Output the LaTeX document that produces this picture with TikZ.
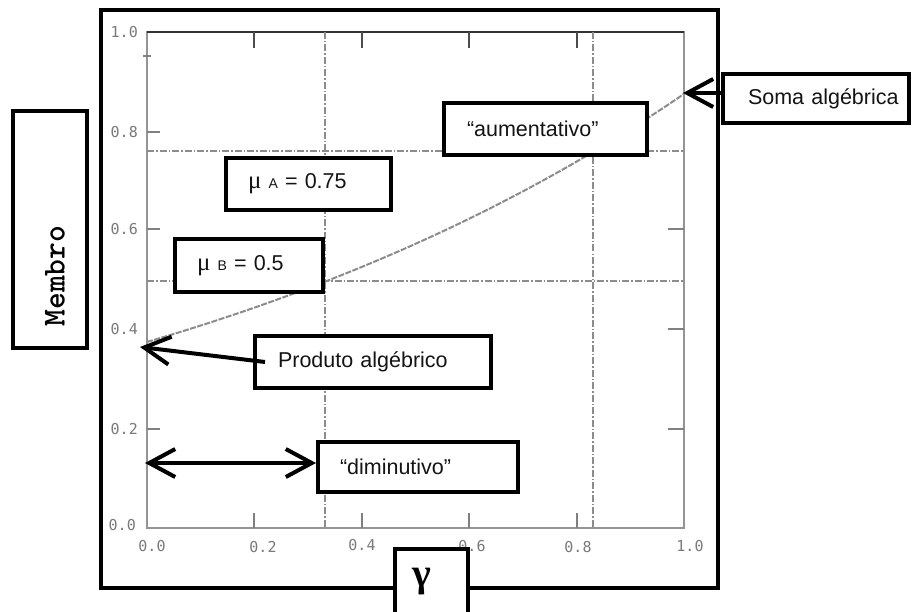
\documentclass[tikz,border=0pt]{standalone}
\usepackage{fontspec}
\setmainfont{Liberation Sans}
\newfontfamily\grfont{Liberation Serif}
\newfontfamily\tickfont{DejaVu Sans Mono}
\usetikzlibrary{arrows.meta}
\begin{document}
\begin{tikzpicture}[x=1pt,y=-1pt,
  tagbox/.style={draw=black, line width=4pt, fill=white, text=black!92, align=left,
    inner ysep=0pt, font=\fontsize{21.5pt}{25pt}\selectfont},
  pointer/.style={line width=4pt, -{Straight Barb[length=26pt,width=28pt]}},
  pointers/.style={line width=4pt,
    {Straight Barb[length=26pt,width=28pt]}-{Straight Barb[length=26pt,width=28pt]}},
  axisline/.style={draw=black!42, line width=2.2pt},
  darktick/.style={draw=black!70, line width=2.4pt},
  lighttick/.style={draw=black!50, line width=2pt},
  gridline/.style={draw=black!45, line width=1.4pt, dash pattern=on 7pt off 2pt on 1.5pt off 2pt},
  ticklabel/.style={text=black!52, font=\tickfont\fontsize{15pt}{17pt}\selectfont, inner sep=0pt},
  curve/.style={draw=black!45, line width=2pt, dash pattern=on 6pt off 1.5pt}]
\useasboundingbox (0,0) rectangle (912,612);
\clip (0,0) rectangle (912,612);
\fill[white] (0,0) rectangle (912,612);

% outer frame around the chart
\draw[line width=4pt] (101,10) rectangle (718,588);

% plot area
\draw[axisline] (147,32) rectangle (684,528);
\draw[draw=black!80, line width=2.6pt] (147,32) -- (684,32);

% ticks
\foreach \tx in {254,362,469,577} {
  \draw[darktick] (\tx,32) -- (\tx,48);
  \draw[lighttick] (\tx,528) -- (\tx,513);
}
\foreach \ty in {132,229,429} \draw[lighttick] (147,\ty) -- (160,\ty);
\draw[lighttick] (143,56) -- (151,56);
\foreach \ty in {229,329,429} \draw[lighttick] (684,\ty) -- (668,\ty);

% dash-dot reference lines
\draw[gridline] (147,151) -- (684,151);
\draw[gridline] (147,281) -- (684,281);
\draw[gridline] (325,32) -- (325,528);
\draw[gridline] (593,32) -- (593,528);

% gamma operator between product (0.375) and algebraic sum (0.875)
\draw[curve] plot[domain=0:1, samples=60, smooth]
  ({147+537*\x},{528-496*exp((1-\x)*(-0.98083)+\x*(-0.13353))});

% tick labels
\node[ticklabel, anchor=east] (y10) at (138,32) {1.0};
\node[ticklabel, anchor=east] (y08) at (138,132) {0.8};
\node[ticklabel, anchor=east] (y06) at (138,229) {0.6};
\node[ticklabel, anchor=east] (y04) at (138,329) {0.4};
\node[ticklabel, anchor=east] (y02) at (138,429) {0.2};
\node[ticklabel, anchor=east] (y00) at (136,525) {0.0};
\node[ticklabel] (x00) at (152,546) {0.0};
\node[ticklabel] (x02) at (263,547) {0.2};
\node[ticklabel] (x04) at (362,545) {0.4};
\node[ticklabel] (x06) at (472,546) {0.6};
\node[ticklabel] (x08) at (578,547) {0.8};
\node[ticklabel] (x10) at (690,546) {1.0};

% label boxes
\node[tagbox, minimum width=165pt, minimum height=52pt, inner xsep=22pt, text width=121pt]
  (muA) at (308.5,184) {{\grfont\fontsize{25pt}{27pt}\selectfont μ} {\fontsize{14pt}{16pt}\selectfont A} = 0.75};
\node[tagbox, minimum width=148pt, minimum height=53pt, inner xsep=22pt, text width=104pt]
  (muB) at (249,265.5) {{\grfont\fontsize{25pt}{27pt}\selectfont μ} {\fontsize{14pt}{16pt}\selectfont B} = 0.5};
\node[tagbox, minimum width=236pt, minimum height=52pt, inner xsep=23pt, text width=190pt]
  (prod) at (373,362) {Produto algébrico};
\node[tagbox, minimum width=200pt, minimum height=50pt, inner xsep=22pt, text width=156pt]
  (dimin) at (418,467) {“diminutivo”};
\node[tagbox, minimum width=203pt, minimum height=52pt, inner xsep=23pt, text width=157pt]
  (aument) at (545.5,129) {“aumentativo”};
\node[tagbox, minimum width=186pt, minimum height=49pt, inner xsep=5pt, text width=176pt]
  (soma) at (816,98.5) {\hspace*{20pt}\mbox{Soma algébrica}};

% axis title boxes
\node[draw, line width=4pt, fill=white, minimum width=74pt, minimum height=237pt, inner sep=0pt]
  (membro) at (50,229.5) {};
\node[rotate=90, inner sep=0pt, font=\ttfamily\bfseries\fontsize{32pt}{36pt}\selectfont]
  (membrotxt) at (55,276) {Membro};
\node[draw, line width=4pt, fill=white, minimum width=73pt, minimum height=100pt,
  inner sep=0pt, anchor=north west] (gbox) at (393,547) {};
\node[inner sep=0pt, font=\grfont\bfseries\fontsize{40pt}{44pt}\selectfont]
  (gam) at (422,582) {γ};

% pointers
\coordinate (sa) at (683,93);
\coordinate (pa) at (140,347);
\coordinate (dl) at (145,463);
\draw[pointer] (sa -| soma.west) -- (sa);
\draw[pointer] ([xshift=12pt]prod.west) -- (pa);
\draw[pointers] (dl) -- (dl -| dimin.west);
\end{tikzpicture}
\end{document}
